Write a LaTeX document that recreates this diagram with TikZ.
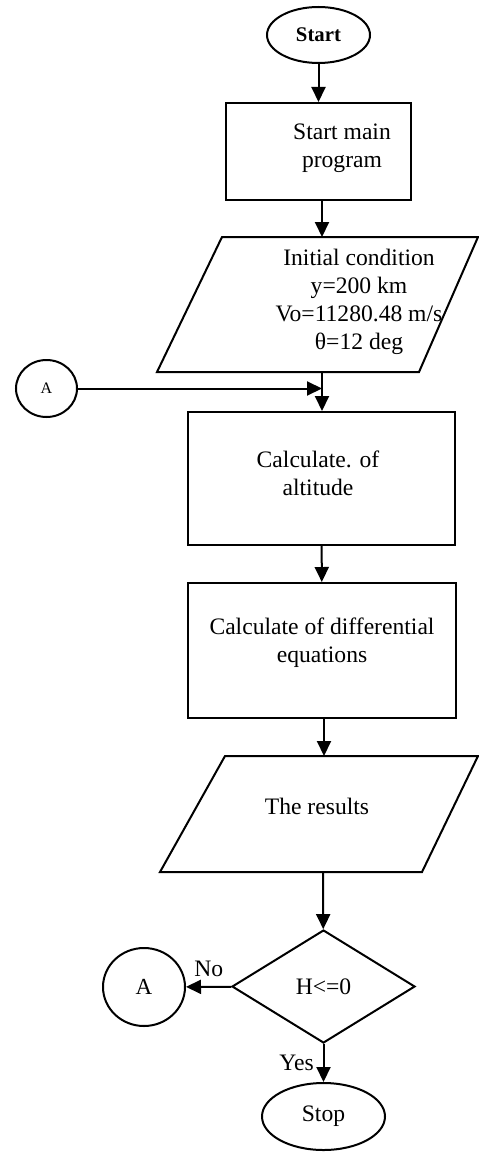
\documentclass[tikz,border=0pt]{standalone}
\usepackage{fontspec}
\setmainfont{Liberation Serif}
\usetikzlibrary{arrows.meta, shapes.geometric, positioning}

\begin{document}
\begin{tikzpicture}[x=0.5pt, y=-0.5pt, line width=1pt,
  txt/.style={align=center, font=\fontsize{11.8}{14}\selectfont},
  terminal/.style={draw, ellipse, inner sep=0pt, txt},
  process/.style={draw, rectangle, inner sep=0pt, txt},
  decision/.style={draw, diamond, inner sep=0pt, txt},
  joint/.style={draw, ellipse, inner sep=0pt},
  arr/.style={-{Triangle[length=7.5pt,width=7pt]}}]

        \useasboundingbox (0,0) rectangle (478,1156);

        % shapes of the chart
        \node[terminal, minimum width=51.5pt, minimum height=28pt, font=\fontsize{10.4}{12}\selectfont\bfseries] (start) at (318.5,35) {Start};
        \node[process, minimum width=92.5pt, minimum height=48.5pt] (main) at (318.5,151.5) {};
        \node[txt] (maintxt) at (342,148) {Start main\\program};
        \draw (222,237) -- (478,237) -- (419,372) -- (157,372) -- cycle;
        \coordinate (initn) at (322,237);
        \coordinate (inits) at (322,372);
        \node[txt] (inittxt) at (359,301.5) {Initial condition\\y=200 km\\Vo=11280.48 m/s\\θ=12 deg};
        \node[joint, minimum width=30.5pt, minimum height=28.5pt, font=\fontsize{8}{9}\selectfont] (a1) at (46.5,388.5) {A};
        \node[process, minimum width=133.5pt, minimum height=66.5pt] (alt) at (321.5,478.5) {};
        \node[txt] (alttxt) at (318,473) {Calculate. of\\altitude};
        \node[process, minimum width=134pt, minimum height=67.5pt] (diff) at (322,650.5) {};
        \node[txt] (difftxt) at (322,643) {Calculate of differential\\equations};
        \draw (225,756) -- (478,756) -- (422,872) -- (160,872) -- cycle;
        \coordinate (resn) at (324,756);
        \coordinate (ress) at (323,872);
        \node[txt] (restxt) at (317,806) {The results};
        \node[decision, minimum width=91.5pt, minimum height=56.5pt, aspect=1.62] (check) at (323.5,986.5) {H<=0};
        \node[joint, minimum width=41pt, minimum height=39pt, font=\fontsize{11.5}{13}\selectfont] (a2) at (144,987) {A};
        \node[terminal, minimum width=61.5pt, minimum height=33.5pt] (stop) at (323.5,1116.5) {Stop};

        % flow lines
        \draw[arr] (start) -- (main);
        \draw[arr] (main.south -| initn) -- (initn);
        \draw[arr] (inits) -- (alt.north -| inits);
        \draw[arr] (a1) -- (a1 -| inits);
        \draw[arr] (alt) -- (diff);
        \draw[arr] (diff.south -| resn) -- (resn);
        \draw[arr] (ress) -- (check);
        \draw[arr] (check) -- node[txt, above=1pt] {No} (a2);
        \draw[arr] (check) -- node[txt, left=1pt] {Yes} (stop);
\end{tikzpicture}
\end{document}
